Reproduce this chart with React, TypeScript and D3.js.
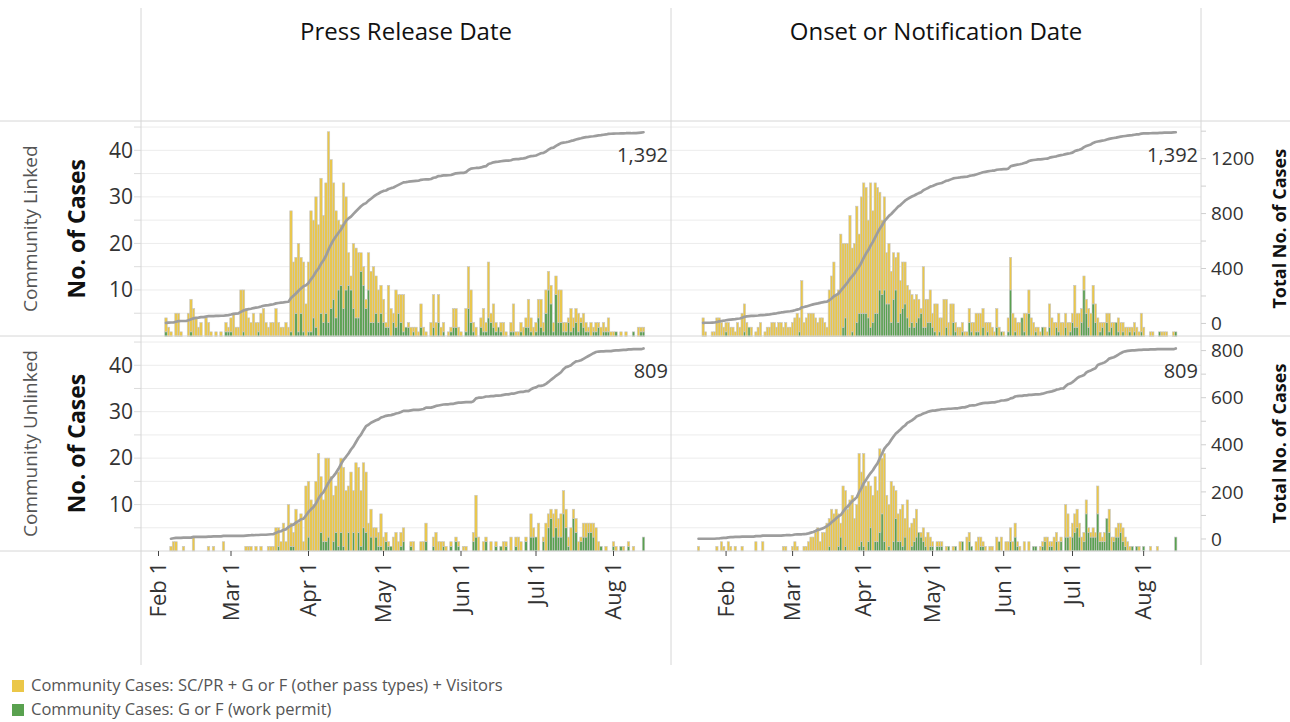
import React from "react";
import * as d3 from "d3";

// ---- labels ----
const columnTitles = ["Press Release Date", "Onset or Notification Date"];
const rowTitles = ["Community Linked", "Community Unlinked"];
const legendLabels = [
  "Community Cases: SC/PR + G or F (other pass types) + Visitors",
  "Community Cases: G or F (work permit)",
];
const monthTicks = ["2020-02-01", "2020-03-01", "2020-04-01", "2020-05-01", "2020-06-01", "2020-07-01", "2020-08-01"];
const monthLabels = ["Feb 1", "Mar 1", "Apr 1", "May 1", "Jun 1", "Jul 1", "Aug 1"];
const leftTicks = [10, 20, 30, 40];
const rightTicksLinked = [0, 400, 800, 1200];
const rightTicksUnlinked = [0, 200, 400, 600, 800];

// ---- daily counts: total community cases and the work-permit part of them ----
// Press release date, community linked
const pressLinkedStart = "2020-02-04";
const pressLinkedTotal = [
  4, 2, 1, 0, 5, 5, 1, 0, 0, 5, 8, 6, 4, 2, 3, 0, 4, 3, 1, 0, 1, 0, 1, 0, 3, 2, 4, 5,
  2, 2, 10, 10, 6, 4, 3, 5, 3, 3, 5, 6, 3, 2, 3, 3, 6, 3, 2, 2, 3, 2, 27, 16, 17, 20, 17, 16,
  7, 16, 27, 25, 30, 24, 34, 26, 33, 44, 38, 33, 27, 25, 24, 33, 30, 18, 13, 20, 19,
  18, 18, 15, 8, 18, 14, 15, 13, 10, 11, 8, 3, 11, 6, 5, 10, 9, 9, 9, 2, 3,
  2, 2, 2, 1, 7, 2, 1, 0, 3, 9, 3, 9, 2, 3, 0, 1, 2, 6, 6, 2, 1, 0, 6, 15, 10, 3, 2, 0,
  4, 6, 3, 16, 5, 7, 3, 2, 3, 3, 1, 0, 3, 7, 1, 1, 3, 2, 4, 8, 4, 2, 3, 8, 8, 3, 10, 14,
  11, 3, 13, 10, 10, 3, 3, 4, 6, 4, 6, 5, 4, 5, 3, 2, 3, 2, 3, 3, 2, 3, 2, 4, 1, 1, 1, 0,
  1, 0, 1, 0, 0, 1, 0, 2, 2, 2,
];
const pressLinkedWorkPermit = [
  1, 0, 0, 0, 0, 0, 0, 0, 0, 0, 1, 0, 0, 0, 0, 0, 0, 0, 0, 0, 0, 0, 0, 0, 1, 1, 1, 0,
  0, 0, 0, 1, 0, 0, 0, 0, 0, 1, 0, 0, 0, 0, 0, 0, 0, 0, 0, 0, 0, 0, 1, 0, 5, 1, 5, 1,
  0, 1, 1, 4, 2, 0, 5, 3, 5, 3, 6, 8, 4, 10, 11, 6, 10, 11, 10, 6, 4,
  4, 14, 11, 6, 10, 3, 3, 5, 3, 5, 3, 2, 2, 0, 3, 2, 5, 3, 1, 2, 2,
  0, 1, 0, 0, 2, 0, 0, 0, 0, 2, 0, 3, 0, 1, 0, 0, 1, 2, 2, 0, 0, 0, 1, 6, 3, 1, 0, 0,
  2, 1, 1, 4, 3, 2, 1, 2, 1, 0, 0, 0, 1, 1, 0, 0, 1, 0, 2, 2, 1, 0, 1, 4, 2, 1, 5, 10,
  7, 1, 9, 3, 3, 1, 1, 3, 1, 2, 3, 1, 3, 2, 1, 1, 0, 1, 1, 2, 0, 1, 1, 1, 0, 0, 1, 0,
  0, 0, 0, 0, 0, 1, 0, 0, 1, 1,
];

// Onset or notification date, community linked
const onsetLinkedStart = "2020-01-22";
const onsetLinkedTotal = [
  4, 1, 0, 0, 1, 1, 4, 4, 3, 2, 3, 3, 2, 2, 1, 3, 2, 5, 7, 3, 2, 2, 0, 1, 2, 3, 0, 1,
  2, 2, 3, 3, 2, 3, 3, 2, 3, 2, 2, 3, 4, 5, 4, 12, 3, 4, 5, 5, 5, 4, 3, 4, 4, 3, 2, 10,
  13, 16, 9, 10, 22, 20, 20, 20, 26, 19, 20, 28, 22, 30, 33, 32, 25, 33, 27, 33, 32,
  31, 25, 30, 18, 20, 14, 18, 17, 18, 12, 16, 16, 11, 10, 9, 8, 9, 8, 6, 15, 8,
  8, 10, 5, 7, 7, 4, 4, 8, 8, 3, 7, 7, 3, 2, 2, 3, 1, 1, 6, 3, 3, 5, 5, 5, 6, 3, 3, 3,
  2, 1, 6, 2, 1, 1, 0, 4, 17, 5, 4, 3, 3, 4, 5, 5, 10, 4, 3, 2, 2, 1, 2, 2, 1, 7, 4, 3,
  3, 5, 3, 3, 5, 3, 3, 5, 11, 5, 5, 6, 13, 8, 6, 5, 11, 7, 4, 3, 3, 3, 5, 5, 3, 3, 3, 4,
  3, 3, 2, 2, 2, 2, 3, 2, 1, 5, 2, 0, 0, 1, 1, 0, 0, 1, 1, 1, 1, 0, 0, 1, 1,
];
const onsetLinkedWorkPermit = [
  0, 0, 0, 0, 0, 0, 0, 0, 0, 0, 1, 0, 0, 0, 0, 0, 0, 0, 1, 0, 2, 0, 0, 0, 0, 0, 0, 0,
  0, 0, 0, 0, 0, 0, 0, 0, 0, 0, 0, 0, 0, 0, 1, 0, 0, 0, 0, 0, 0, 0, 0, 0, 0, 0, 0, 0,
  0, 0, 0, 0, 0, 2, 4, 0, 0, 1, 0, 3, 5, 5, 5, 5, 4, 2, 3, 5, 5,
  10, 9, 10, 7, 7, 3, 8, 10, 3, 5, 6, 7, 4, 2, 3, 2, 3, 4, 5, 2, 2,
  3, 3, 2, 1, 0, 1, 0, 0, 2, 0, 0, 3, 1, 0, 0, 1, 0, 0, 3, 1, 0, 1, 1, 0, 2, 0, 1, 0,
  0, 0, 2, 0, 1, 0, 0, 1, 10, 0, 1, 0, 0, 4, 1, 0, 5, 0, 0, 1, 0, 0, 2, 0, 0, 2, 0, 0,
  2, 1, 0, 0, 2, 0, 1, 3, 2, 2, 0, 3, 10, 5, 2, 0, 7, 3, 0, 1, 2, 0, 3, 1, 2, 0, 3, 1,
  0, 1, 0, 0, 1, 0, 1, 0, 0, 1, 0, 0, 0, 0, 0, 0, 0, 1, 0, 0, 0, 0, 0, 0, 1,
];

// Press release date, community unlinked
const pressUnlinkedStart = "2020-02-06";
const pressUnlinkedTotal = [
  1, 2, 2, 0, 0, 1, 0, 0, 0, 3, 0, 0, 0, 0, 0, 1, 0, 1, 0, 0, 0, 2, 0, 0, 0, 0, 0, 0,
  0, 0, 1, 1, 1, 0, 1, 0, 1, 0, 0, 1, 1, 1, 5, 5, 2, 6, 2, 10, 6, 4, 9, 6, 8, 2, 14, 15,
  11, 10, 15, 21, 16, 11, 20, 20, 16, 12, 14, 17, 20, 18, 13, 14, 17, 13, 19, 18, 13,
  19, 17, 6, 9, 5, 5, 4, 8, 3, 4, 2, 1, 3, 4, 2, 4, 5, 0, 0, 2, 2,
  0, 0, 2, 2, 6, 0, 0, 3, 4, 2, 2, 2, 1, 0, 2, 0, 3, 2, 0, 1, 1, 0, 0, 4, 12, 3, 0, 2,
  3, 0, 2, 0, 2, 0, 1, 2, 2, 0, 3, 0, 3, 3, 2, 0, 3, 0, 8, 5, 3, 6, 0, 3, 6, 8, 9, 8,
  9, 7, 8, 13, 9, 3, 5, 9, 7, 2, 3, 6, 6, 6, 6, 6, 5, 2, 1, 0, 1, 0, 0, 2, 1, 0, 1, 1,
  0, 2, 0, 1, 0, 0, 0, 3,
];
const pressUnlinkedWorkPermit = [
  0, 0, 0, 0, 0, 0, 0, 0, 0, 0, 0, 0, 0, 0, 0, 0, 0, 0, 0, 0, 0, 0, 0, 0, 0, 0, 0, 0,
  0, 0, 0, 0, 0, 0, 0, 0, 0, 0, 0, 0, 0, 0, 0, 1, 0, 0, 0, 0, 1, 1, 0, 0, 0, 0, 0, 3,
  0, 0, 0, 0, 4, 2, 2, 3, 0, 2, 4, 1, 4, 1, 0, 4, 0, 4, 0, 4, 1,
  5, 4, 0, 3, 0, 3, 1, 1, 0, 2, 1, 1, 0, 0, 0, 1, 2, 0, 0, 1, 0,
  0, 0, 0, 0, 2, 0, 0, 1, 0, 0, 0, 1, 0, 0, 1, 0, 2, 1, 0, 0, 0, 0, 0, 2, 3, 0, 0, 0,
  2, 0, 0, 0, 1, 0, 1, 0, 1, 0, 0, 0, 1, 0, 0, 0, 2, 0, 3, 3, 3, 0, 0, 2, 0, 5, 7, 3,
  5, 3, 3, 8, 5, 1, 0, 7, 4, 0, 2, 3, 3, 4, 4, 3, 0, 0, 1, 0, 0, 0, 0, 1, 0, 0, 1, 0,
  0, 1, 0, 0, 0, 0, 0, 3,
];

// Onset or notification date, community unlinked
const onsetUnlinkedStart = "2020-01-20";
const onsetUnlinkedTotal = [
  1, 0, 0, 0, 0, 0, 0, 0, 1, 0, 2, 1, 0, 2, 1, 0, 1, 0, 0, 1, 0, 0, 0, 0, 0, 2, 0, 0,
  2, 0, 0, 0, 0, 0, 0, 0, 0, 1, 1, 0, 0, 1, 2, 1, 0, 0, 1, 1, 2, 3, 3, 4, 5, 2, 4, 4,
  6, 7, 9, 8, 9, 8, 6, 14, 13, 9, 11, 12, 7, 10, 21, 17, 21, 14, 15, 14, 12,
  16, 13, 22, 20, 21, 12, 10, 15, 14, 13, 8, 9, 10, 7, 11, 5, 6, 7, 9, 4, 4,
  5, 3, 4, 3, 2, 0, 2, 2, 2, 0, 1, 1, 0, 1, 1, 0, 2, 2, 0, 3, 4, 1, 0, 2, 3, 3, 2, 1,
  0, 1, 1, 0, 3, 2, 3, 0, 2, 2, 5, 2, 6, 2, 1, 0, 2, 0, 2, 0, 1, 1, 0, 1, 2, 3, 3, 2,
  2, 3, 4, 2, 3, 0, 10, 8, 3, 6, 8, 9, 6, 3, 4, 11, 5, 4, 5, 4, 14, 4, 3, 4, 7, 9, 3, 3,
  5, 6, 6, 5, 3, 2, 1, 1, 0, 1, 1, 0, 1, 0, 0, 1, 0, 0, 1, 0, 0, 0, 0, 0, 0, 0, 3,
];
const onsetUnlinkedWorkPermit = [
  0, 0, 0, 0, 0, 0, 0, 0, 0, 0, 0, 0, 0, 0, 0, 0, 0, 0, 0, 0, 0, 0, 0, 0, 0, 0, 0, 0,
  0, 0, 0, 0, 0, 0, 0, 0, 0, 0, 0, 0, 0, 0, 0, 0, 0, 0, 0, 0, 0, 0, 0, 0, 0, 0, 0, 0,
  0, 1, 0, 0, 0, 1, 3, 0, 1, 0, 0, 0, 0, 0, 1, 2, 1, 0, 2, 5, 0,
  2, 2, 4, 8, 2, 0, 1, 0, 2, 7, 2, 2, 1, 3, 0, 0, 1, 2, 3, 4, 3,
  2, 1, 0, 1, 1, 0, 1, 1, 1, 0, 0, 1, 0, 0, 1, 0, 0, 2, 0, 0, 2, 1, 0, 0, 0, 1, 1, 0,
  0, 0, 0, 0, 0, 2, 0, 0, 0, 0, 2, 0, 3, 1, 0, 0, 0, 0, 0, 0, 1, 1, 0, 0, 1, 2, 0, 1,
  1, 0, 2, 0, 2, 0, 3, 3, 0, 3, 4, 5, 3, 0, 2, 8, 4, 3, 3, 3, 8, 2, 2, 2, 7, 4, 0, 2,
  3, 3, 4, 2, 1, 0, 0, 1, 0, 1, 0, 0, 1, 0, 0, 0, 0, 0, 0, 0, 0, 0, 0, 0, 0, 0, 3,
];

// ---- look ----
const FONT = "'Open Sans', 'Noto Sans', sans-serif";
const YELLOW = "#ebc748";
const GREEN = "#59a14f";
const LINE = "#9d9d9d";
const RULE = "#d6d6d6";
const GRID = "#ececec";

const W = 1290;
const H = 722;
const parse = d3.utcParse("%Y-%m-%d");

// panel geometry (columns = date type, rows = linked / unlinked)
const cols = [
  { x0: 141, x1: 671, domain: ["2020-01-25", "2020-08-24"] },
  { x0: 671, x1: 1201, domain: ["2020-01-08", "2020-08-26"] },
];
const rows = [
  { y0: 121, y1: 336.5, right: [-95, 1474], ticks: rightTicksLinked, minor: 200 },
  { y0: 336, y1: 551, right: [-51, 862], ticks: rightTicksUnlinked, minor: 100 },
];

const panels = [
  { r: 0, c: 0, start: pressLinkedStart, total: pressLinkedTotal, wp: pressLinkedWorkPermit },
  { r: 0, c: 1, start: onsetLinkedStart, total: onsetLinkedTotal, wp: onsetLinkedWorkPermit },
  { r: 1, c: 0, start: pressUnlinkedStart, total: pressUnlinkedTotal, wp: pressUnlinkedWorkPermit },
  { r: 1, c: 1, start: onsetUnlinkedStart, total: onsetUnlinkedTotal, wp: onsetUnlinkedWorkPermit },
];

const Panel = ({ p }: { p: (typeof panels)[number] }) => {
  const col = cols[p.c];
  const row = rows[p.r];
  const x = d3.scaleUtc().domain(col.domain.map((s) => parse(s) as Date)).range([col.x0, col.x1]);
  const y = d3.scaleLinear().domain([0, 46.3]).range([row.y1, row.y0]);
  const yR = d3.scaleLinear().domain(row.right).range([row.y1, row.y0]);

  const first = parse(p.start) as Date;
  const dates = p.total.map((_, i) => d3.utcDay.offset(first, i));
  const table = p.total.map((t, i) => {
    const g = Math.min(p.wp[i] ?? 0, t);
    return { wp: g, other: t - g };
  });
  const stacked = d3.stack<{ wp: number; other: number }>().keys(["wp", "other"])(table);
  const cum = Array.from(d3.cumsum(p.total));
  const bw = x(dates[1]) - x(dates[0]);
  const line = d3
    .line<number>()
    .x((_, i) => x(dates[i]))
    .y((v) => yR(v));
  const last = cum[cum.length - 1];

  return (
    <g>
      {stacked.map((layer) => (
        <g key={layer.key} fill={layer.key === "wp" ? GREEN : YELLOW} stroke="#c6c6c6" strokeWidth={0.6}>
          {layer.map((d, i) =>
            d[1] > d[0] ? (
              <rect key={i} x={x(dates[i]) - bw / 2} width={bw} y={y(d[1])} height={y(d[0]) - y(d[1])} />
            ) : null
          )}
        </g>
      ))}
      <path d={line(cum) ?? ""} fill="none" stroke={LINE} strokeWidth={2.7} strokeLinejoin="round" strokeLinecap="round" />
      <text x={col.x1 - 3} y={yR(last) + 30} textAnchor="end" fontSize={20} fill="#333" fontFamily={FONT}>
        {d3.format(",")(last)}
      </text>
    </g>
  );
};

export default function App() {
  const gridVals = d3.range(5, 46, 5);
  return (
    <svg width={W} height={H} style={{ position: "absolute", left: 0, top: 0, background: "#fff" }} fontFamily={FONT}>
      {/* grid */}
      {rows.map((row, ri) => {
        const y = d3.scaleLinear().domain([0, 46.3]).range([row.y1, row.y0]);
        return (
          <g key={"g" + ri}>
            {gridVals.map((v) => (
              <g key={v}>
                <line x1={141} x2={1201} y1={y(v)} y2={y(v)} stroke={GRID} strokeWidth={1} />
                <line x1={134} x2={141} y1={y(v)} y2={y(v)} stroke="#dcdcdc" strokeWidth={1} />
              </g>
            ))}
          </g>
        );
      })}

      {panels.map((p, i) => (
        <Panel key={i} p={p} />
      ))}

      {/* frame rules */}
      {[141, 671, 1201].map((xv) => (
        <line key={xv} x1={xv} x2={xv} y1={8} y2={665} stroke={RULE} strokeWidth={1} />
      ))}
      {[121, 336, 551].map((yv) => (
        <line key={yv} x1={0} x2={W} y1={yv} y2={yv} stroke={RULE} strokeWidth={1} />
      ))}

      {/* column headers */}
      {columnTitles.map((t, i) => (
        <text key={t} x={(cols[i].x0 + cols[i].x1) / 2} y={40} textAnchor="middle" fontSize={24} fontWeight={500} fill="#111">
          {t}
        </text>
      ))}

      {/* row headers and axes */}
      {rows.map((row, ri) => {
        const y = d3.scaleLinear().domain([0, 46.3]).range([row.y1, row.y0]);
        const yR = d3.scaleLinear().domain(row.right).range([row.y1, row.y0]);
        const mid = (row.y0 + row.y1) / 2;
        const minors = d3.range(0, row.right[1], row.minor);
        return (
          <g key={"a" + ri}>
            <text transform={`translate(37,${mid}) rotate(-90)`} textAnchor="middle" fontSize={19} fill="#555">
              {rowTitles[ri]}
            </text>
            <text transform={`translate(85,${mid}) rotate(-90)`} textAnchor="middle" fontSize={23} fontWeight={700} fill="#111">
              No. of Cases
            </text>
            {leftTicks.map((v) => (
              <text key={v} x={133} y={y(v)} dy="0.35em" textAnchor="end" fontSize={21} fill="#333">
                {v}
              </text>
            ))}
            {minors.map((v) => (
              <line key={v} x1={1201} x2={1206} y1={yR(v)} y2={yR(v)} stroke="#cfcfcf" />
            ))}
            {row.ticks.map((v) => (
              <text key={v} x={1211} y={yR(v)} dy="0.35em" fontSize={19} fill="#333">
                {v}
              </text>
            ))}
            <text transform={`translate(1286,${mid}) rotate(-90)`} textAnchor="middle" fontSize={18} fontWeight={700} fill="#111">
              Total No. of Cases
            </text>
          </g>
        );
      })}

      {/* date axes */}
      {cols.map((col, ci) => {
        const x = d3.scaleUtc().domain(col.domain.map((s) => parse(s) as Date)).range([col.x0, col.x1]);
        return (
          <g key={"x" + ci}>
            {monthTicks.map((m, i) => {
              const xv = x(parse(m) as Date);
              return (
                <g key={m}>
                  <line x1={xv} x2={xv} y1={551} y2={556} stroke="#444" />
                  <text transform={`translate(${xv},${562}) rotate(-90)`} dy="0.35em" textAnchor="end" fontSize={22} fill="#333">
                    {monthLabels[i]}
                  </text>
                </g>
              );
            })}
          </g>
        );
      })}

      {/* legend */}
      {legendLabels.map((t, i) => (
        <g key={t} transform={`translate(12,${680 + i * 24})`}>
          <rect width={12} height={12} fill={i === 0 ? YELLOW : GREEN} />
          <text x={19} y={11} fontSize={16.5} fill="#555">
            {t}
          </text>
        </g>
      ))}
    </svg>
  );
}
